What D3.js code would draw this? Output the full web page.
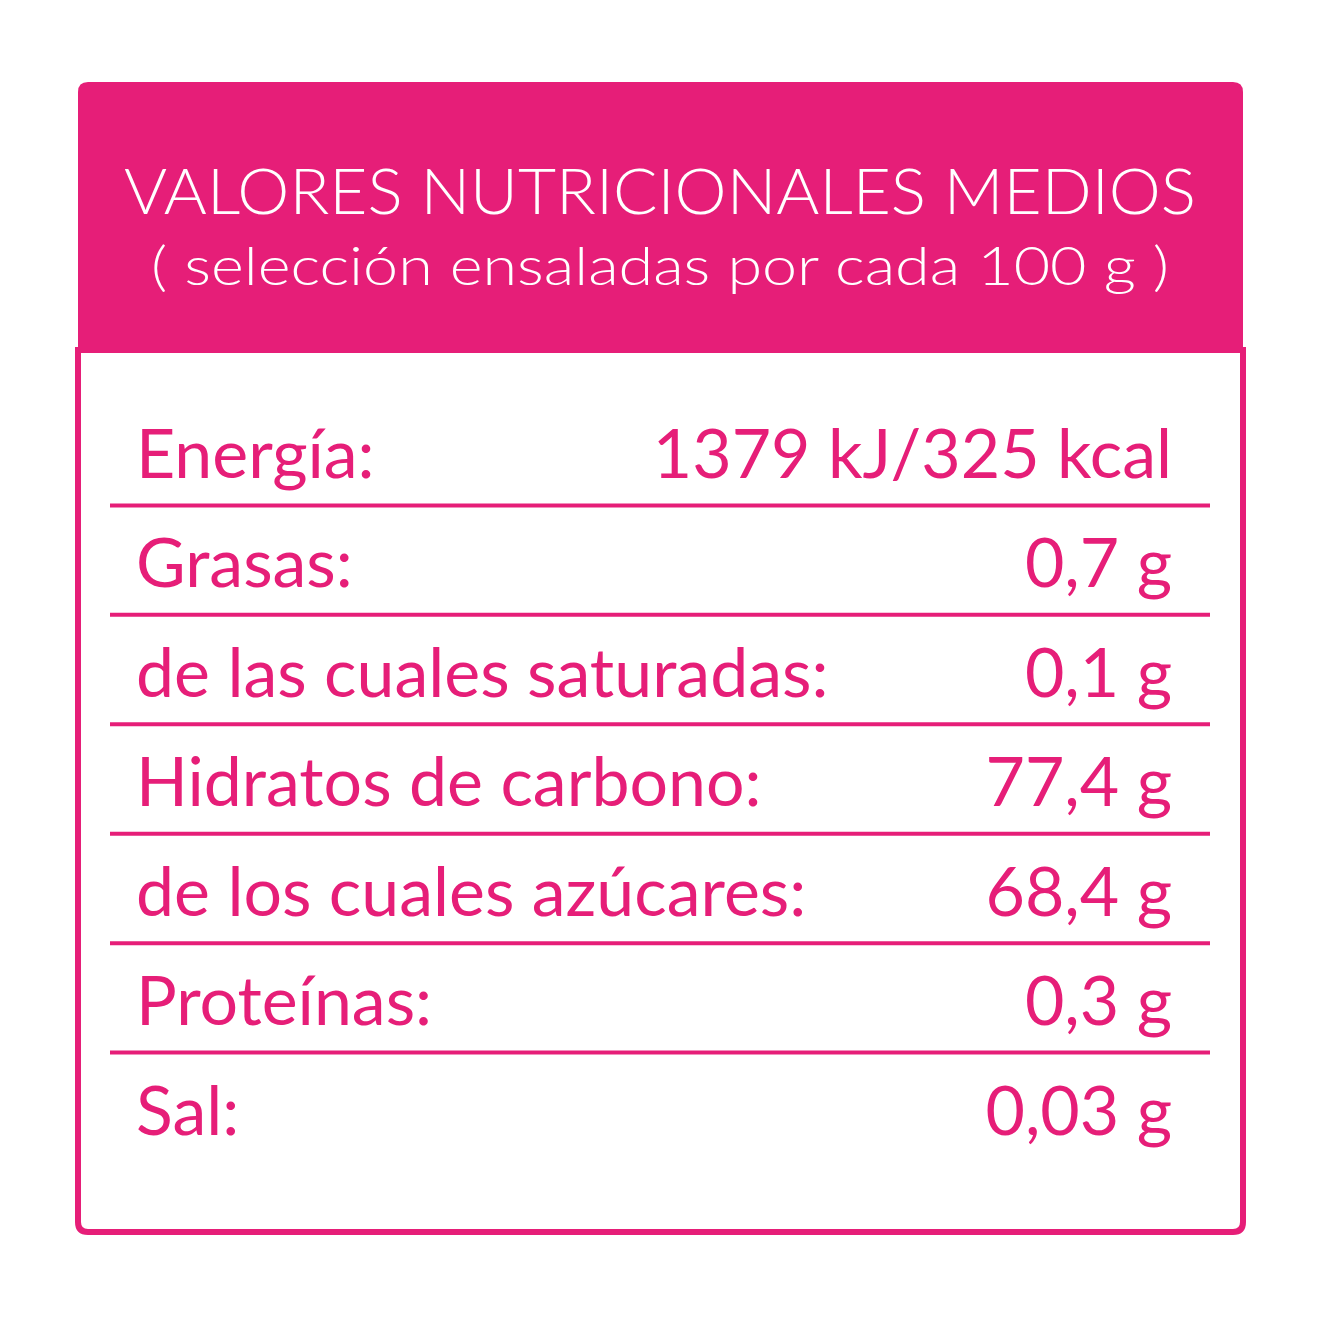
<!DOCTYPE html>
<html><head><meta charset="utf-8">
<script src="https://cdn.jsdelivr.net/npm/d3@7"></script>
<style>html,body{margin:0;padding:0;background:#fff}</style>
</head><body>
<script>
const titleLines = ["VALORES NUTRICIONALES MEDIOS", "( selección ensaladas por cada 100 g )"];
const labels = ["Energía:", "Grasas:", "de las cuales saturadas:", "Hidratos de carbono:", "de los cuales azúcares:", "Proteínas:", "Sal:"];
const values = ["1379 kJ/325 kcal", "0,7 g", "0,1 g", "77,4 g", "68,4 g", "0,3 g", "0,03 g"];

const W = 1320, H = 1320, pink = "#e61e78";
const svg = d3.select("body").append("svg").attr("width", W).attr("height", H);
const font = "Lato, 'Open Sans', sans-serif";

// header
svg.append("path").attr("fill", pink)
  .attr("d", "M78,92 Q78,82 88,82 L1233,82 Q1243,82 1243,92 L1243,350 L78,350 Z");
// body box
svg.append("path").attr("fill", "#fff").attr("stroke", pink).attr("stroke-width", 6)
  .attr("d", "M78,350 L1243,350 L1243,1222 Q1243,1232 1233,1232 L88,1232 Q78,1232 78,1222 Z");
svg.append("rect").attr("x", 78).attr("y", 340).attr("width", 1165).attr("height", 10).attr("fill", pink);

svg.selectAll("text.title").data(titleLines).join("text")
  .attr("x", 660).attr("y", (d, i) => i === 0 ? 214 : 285)
  .attr("text-anchor", "middle").attr("fill", "#fff")
  .attr("font-family", font).attr("font-weight", 300)
  .attr("font-size", (d, i) => i === 0 ? 63 : 54)
  .attr("textLength", (d, i) => i === 0 ? 1072 : 1018)
  .attr("lengthAdjust", "spacingAndGlyphs")
  .text(d => d);

const y = d3.scaleBand().domain(d3.range(labels.length)).range([396, 1162]);

const rows = svg.selectAll("g.row").data(labels).join("g")
  .attr("transform", (d, i) => `translate(0,${y(i)})`);
rows.append("text").attr("x", 136).attr("y", 82)
  .attr("fill", pink).attr("font-family", font).attr("font-weight", 400).attr("font-size", 68)
  .text(d => d);
rows.append("text").attr("x", 1172).attr("y", 82).attr("text-anchor", "end")
  .attr("fill", pink).attr("font-family", font).attr("font-weight", 400).attr("font-size", 68)
  .text((d, i) => values[i]);
rows.filter((d, i) => i < labels.length - 1).append("line")
  .attr("x1", 110).attr("x2", 1210).attr("y1", y.bandwidth()).attr("y2", y.bandwidth())
  .attr("stroke", pink).attr("stroke-width", 4);
</script>
</body></html>
